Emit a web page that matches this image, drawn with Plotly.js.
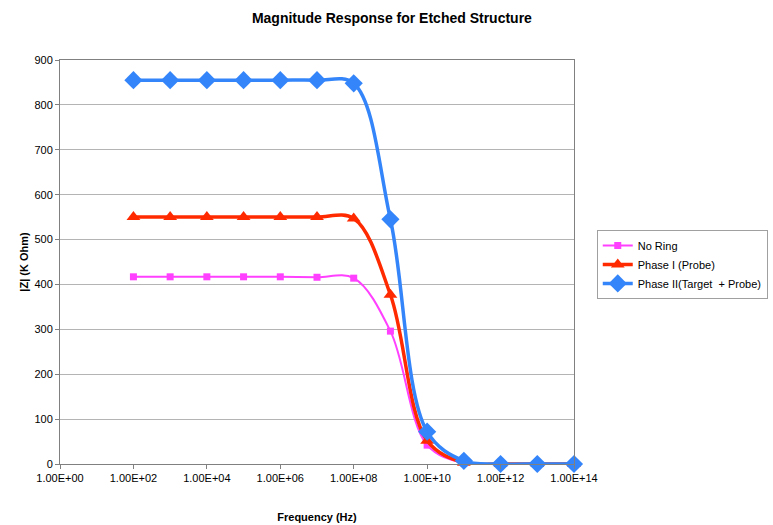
<!DOCTYPE html>
<html><head><meta charset="utf-8">
<script src="https://cdn.plot.ly/plotly-3.0.1.min.js"></script>
<style>html,body{margin:0;padding:0;background:#fff}</style>
</head><body>
<div id="chart" style="width:773px;height:525px"></div>
<script>
const freq = [1e2,1e3,1e4,1e5,1e6,1e7,1e8,1e9,1e10,1e11,1e12,1e13,1e14];
const noRing = [417,417,417,417,417,416,414,296,42,2,0,0,0];
const phase1 = [550,550,550,550,550,550,547,377,52,3,0,0,0];
const phase2 = [855,855,855,855,855,855,848,545,72,7,0,0,0];
const xTickVals = [1e0,1e2,1e4,1e6,1e8,1e10,1e12,1e14];
const xTickText = ['1.00E+00','1.00E+02','1.00E+04','1.00E+06','1.00E+08','1.00E+10','1.00E+12','1.00E+14'];
const seriesNames = ['No Ring','Phase I (Probe)','Phase II(Target  + Probe)'];

const font = {family:'Liberation Sans, Arial, sans-serif', color:'#000'};
const traces = [
 {x:freq, y:noRing, name:seriesNames[0], mode:'lines+markers', line:{color:'#FF40FF', width:2, shape:'spline', smoothing:1},
  marker:{symbol:'square', size:7, color:'#FF40FF'}, cliponaxis:false},
 {x:freq, y:phase1, name:seriesNames[1], mode:'lines+markers', line:{color:'#FF2A00', width:3.5, shape:'spline', smoothing:1},
  marker:{symbol:'triangle-up', size:12, color:'#FF2A00'}, cliponaxis:false},
 {x:freq, y:phase2, name:seriesNames[2], mode:'lines+markers', line:{color:'#3485FA', width:3.5, shape:'spline', smoothing:1},
  marker:{symbol:'diamond', size:14, color:'#3485FA'}, cliponaxis:false}
];
const layout = {
 width:773, height:525,
 margin:{l:60, r:199, t:60, b:61, autoexpand:false},
 paper_bgcolor:'#fff', plot_bgcolor:'#fff',
 font:Object.assign({size:11}, font),
 title:{text:'<b>Magnitude Response for Etched Structure</b>', font:Object.assign({size:14}, font), x:0.507, xanchor:'center', y:0.975, yanchor:'top', xref:'container'},
 xaxis:{type:'log', range:[0,14], tickvals:xTickVals, ticktext:xTickText, showgrid:false, zeroline:false,
  showline:true, linecolor:'#808080', linewidth:1, mirror:true, ticks:'outside', ticklen:4, tickcolor:'#808080',
  tickfont:Object.assign({size:11}, font), automargin:false,
  title:{text:'<b>Frequency (Hz)</b>', font:Object.assign({size:11}, font), standoff:30}},
 yaxis:{range:[0,900], dtick:100, showgrid:true, gridcolor:'#B4B4B4', gridwidth:1, zeroline:false,
  showline:true, linecolor:'#808080', linewidth:1, mirror:true, ticks:'outside', ticklen:4, tickcolor:'#808080',
  tickfont:Object.assign({size:11}, font), automargin:false,
  title:{text:'<b>|Z| (K Ohm)</b>', font:Object.assign({size:11}, font), standoff:3}},
 legend:{xref:'container', yref:'container', x:0.772, xanchor:'left', y:0.562, yanchor:'top', bordercolor:'#A0A0A0', borderwidth:1,
  font:Object.assign({size:11}, font), bgcolor:'#fff', tracegroupgap:0, itemwidth:30},
 showlegend:true
};
Plotly.newPlot('chart', traces, layout, {displayModeBar:false, staticPlot:true});
</script>
</body></html>
